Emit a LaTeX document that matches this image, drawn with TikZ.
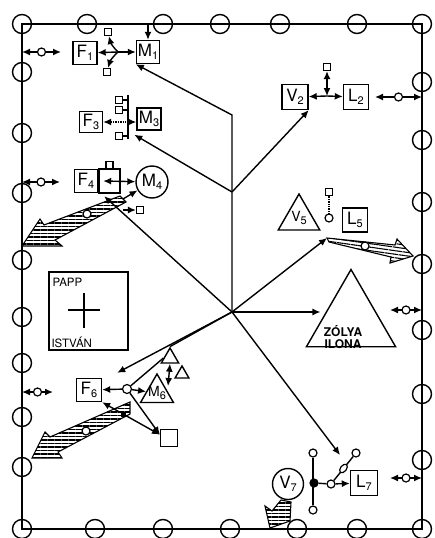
\documentclass[tikz,border=0pt]{standalone}
\usepackage{fontspec}
\setmainfont{TeX Gyre Heros}
\usetikzlibrary{arrows.meta, positioning, shapes.geometric, calc, patterns.meta}
\newcommand\lowidx[1]{\raisebox{-.4ex}{\fontsize{11}{11}\selectfont #1}}
\newcommand\lblfont{\fontsize{17}{17}\selectfont}
\newcommand\trifont{\fontsize{14}{14}\selectfont}
\tikzset{
    edgeline/.style={line width=2.2pt},
    ring/.style={circle, draw, line width=1.4pt, minimum size=19pt, inner sep=0pt},
    pers/.style={draw, line width=1.4pt, minimum width=24pt, minimum height=23pt, inner sep=0pt, font=\lblfont},
    sq/.style={draw, line width=1.2pt, minimum size=7pt, inner sep=0pt, fill=white},
    smalldot/.style={circle, draw, line width=1.2pt, minimum size=8pt, inner sep=0pt, fill=white},
    link/.style={line width=1.4pt},
    arr/.style={link, -{Latex[length=8pt, width=7pt]}},
    dbl/.style={link, {Latex[length=8pt, width=7pt]}-{Latex[length=8pt, width=7pt]}},
    hatch/.style={draw, line width=1.1pt, pattern={Lines[angle=0, distance=3.5pt, line width=1.1pt]}},
    tri/.style={regular polygon, regular polygon sides=3, draw, line width=1.4pt, inner sep=0pt}
}
\begin{document}
\begin{tikzpicture}[x=1pt, y=-1pt]
                \useasboundingbox (0,0) rectangle (434,538);
                
                % Frame and table circles
                \coordinate (fr-nw) at (22,24);
                \coordinate (fr-ne) at (422,24);
                \coordinate (fr-se) at (422,529);
                \coordinate (fr-sw) at (22,529);
                \draw[edgeline] (fr-nw) -- (fr-ne) -- (fr-se) -- (fr-sw) -- cycle;
                \foreach \c in {fr-nw, fr-ne, fr-se, fr-sw} \node[ring] (r-\c) at (\c) {};
                \foreach \x [count=\i] in {87,163,220,280,357} \node[ring] (rt\i) at (\x,24) {};
                \foreach \x [count=\i] in {95,163,230,297,357} \node[ring] (rb\i) at (\x,529) {};
                \foreach \y [count=\i] in {72,133,193,260,317,363,417,467} \node[ring] (rl\i) at (22,\y) {};
                \foreach \y [count=\i] in {82,140,202,264,330,394,460} \node[ring] (rr\i) at (422,\y) {};
                \foreach \a/\b/\y [count=\i] in {22/61/52, 22/60/182, 22/53/392, 375/422/97, 390/422/310, 390/422/478} {
                    \coordinate (ea\i) at (\a,\y);
                    \coordinate (eb\i) at (\b,\y);
                    \draw[dbl] (ea\i) -- node[smalldot] (ed\i) {} (eb\i);
                }
                
                \coordinate (bend) at (232,115);
                \coordinate (B) at (232,192);
                \coordinate (C) at (232,312);
                
                % F1 - M1
                \node[pers] (F1) at (85,53) {F\lowidx{1}};
                \node[pers, minimum width=23pt] (M1) at (148,52) {M\lowidx{1}};
                \coordinate (j1) at (118,52);
                \node[sq] (s1a) at (108,32) {};
                \node[sq] (s1b) at (107,72) {};
                \draw[arr] (j1) -- (F1);
                \draw[arr] (j1) -- (M1);
                \draw[arr] (j1) to[bend left=15] (s1a);
                \draw[arr] (j1) to[bend right=15] (s1b);
                \draw[arr] (M1.north |- fr-nw) -- (M1.north);
                
                % F3 - M3
                \node[pers, minimum width=23pt, minimum height=21pt] (F3) at (91,122) {F\lowidx{3}};
                \node[pers, minimum height=22pt] (M3) at (149,119) {M\lowidx{3}};
                \coordinate (v3a) at (128,95);
                \coordinate (v3b) at (128,139);
                \draw[link] (v3a) -- (v3b);
                \foreach \y [count=\i] in {100,110,136} {
                    \node[sq] (s3\i) at (119,\y) {};
                    \draw[link] (s3\i) -- (s3\i -| v3a);
                }
                \draw[dbl, densely dotted] (F3.east) -- (F3.east -| M3.west);
                
                % F4 - M4
                \node[pers, minimum width=23pt] (F4) at (86,181) {F\lowidx{4}};
                \node[draw, line width=1.4pt, minimum width=21pt, minimum height=24pt, inner sep=0pt, right=0pt of F4] (a4) {};
                \node[sq, above=-1pt of a4] (s4a) {};
                \node[circle, draw, line width=1.4pt, minimum size=32pt, inner sep=0pt, font=\lblfont] (M4) at (152,182) {M\lowidx{4}};
                \draw[dbl] ([xshift=5pt]a4.west) -- (M4);
                \coordinate (h4s) at (123,199);
                \draw[hatch] (120,196) -- (44,225) -- (40,219) -- (22,246) -- (62,246) -- (55,240) -- (126,202) -- cycle;
                \node[smalldot] (h4d) at (87,214) {};
                \draw[arr] (h4s) -- (M4.210);
                \node[sq] (s4b) at (140,210) {};
                \draw[arr] ([yshift=-11pt]h4s) -- (s4b);
                
                % V2 - L2
                \node[pers, minimum width=26pt, minimum height=25pt] (V2) at (295,97) {V\lowidx{2}};
                \node[pers, minimum width=25pt, minimum height=25pt] (L2) at (356,97) {L\lowidx{2}};
                \coordinate (j2) at (327,96);
                \node[sq] (s2) at (327,67) {};
                \draw[arr] (j2) -- (V2);
                \draw[arr] (j2) -- (L2);
                \draw[dbl] (s2) -- (j2);
                
                % V5 - L5
                \node[tri, minimum size=48pt, label={[font=\trifont]center:V\lowidx{5}}] (V5) at (299,218) {};
                \node[sq, line width=1.8pt] (s5) at (329,192) {};
                \node[smalldot] (d5) at (329,218) {};
                \draw[link, densely dotted] (s5) -- (d5);
                \node[pers, minimum width=25pt, minimum height=24pt] (L5) at (355,220) {L\lowidx{5}};
                \coordinate (h5s) at (327,238);
                \draw[hatch, pattern={Lines[angle=-8, distance=3.5pt, line width=1.1pt]}] (h5s) -- (395,245) -- (397,239) -- (413,256) -- (390,263) -- (391,257) -- (329,242) -- cycle;
                \node[smalldot] (h5d) at (365,246) {};
                
                % Zolya Ilona
                \node[tri, minimum size=103pt] (ZI) at (351,321) {};
                \node[font=\bfseries\fontsize{12}{12.5}\selectfont, align=center, inner sep=0pt] (ZIt) at (343,337) {ZÓLYA\\ILONA};
                
                % Papp Istvan
                \node[draw, line width=1.4pt, minimum width=79pt, minimum height=78pt] (PI) at (88.5,311) {};
                \node[font=\fontsize{11.5}{11.5}\selectfont, anchor=north west, inner sep=0pt] (PIa) at ([shift={(4pt,-7pt)}]PI.north west) {PAPP};
                \node[font=\fontsize{11.5}{11.5}\selectfont, anchor=south west, inner sep=0pt] (PIb) at ([shift={(3pt,3pt)}]PI.south west) {ISTVÁN};
                \coordinate (PIx) at (84,310);
                \draw[link] ([xshift=-16pt]PIx) -- ([xshift=16pt]PIx);
                \draw[link] ([yshift=17pt]PIx) -- ([yshift=-18pt]PIx);
                
                % F6 - M6
                \node[pers, minimum width=25pt] (F6) at (89,390) {F\lowidx{6}};
                \node[smalldot, minimum size=9pt] (j6) at (127,389) {};
                \node[tri, minimum size=38pt, label={[font=\trifont]center:M\lowidx{6}}] (M6) at (157,393) {};
                \node[tri, minimum size=20pt] (T1) at (170,358) {};
                \node[tri, minimum size=16pt] (T2) at (182,374) {};
                \coordinate (m6r) at (168,386);
                \draw[arr] (j6) -- (F6);
                \draw[arr] (j6) -- (M6);
                \draw[dbl] (T1.south) -- (m6r);
                \draw[link] (T1.west) -- (j6);
                \draw[hatch] (130,402) -- (50,437) -- (45,432) -- (32,458) -- (62,458) -- (58,452) -- (130,414) -- cycle;
                \node[smalldot] (h6d) at (86,431) {};
                \node[sq, minimum size=17pt] (q6) at (169,438) {};
                \node[fill, minimum size=5pt, inner sep=0pt] (f6) at (123,414) {};
                \draw[arr] (j6) -- (q6.160);
                \draw[arr] (f6) -- (q6.160);
                \draw[arr] (f6) -- (F6.south east);
                
                % V7 - L7
                \node[circle, draw, line width=1.4pt, minimum size=31pt, inner sep=0pt, font=\lblfont] (V7) at (288,484) {V\lowidx{7}};
                \node[smalldot] (d7a) at (313,453) {};
                \node[smalldot] (d7b) at (313,510) {};
                \draw[link] (d7a) -- (d7b);
                \node[smalldot, fill=black] (j7) at (314,483) {};
                \node[smalldot] (d7c) at (331,484) {};
                \node[pers, minimum width=27pt, minimum height=25pt] (L7) at (364,483) {L\lowidx{7}};
                \draw[link] (j7) -- (d7c);
                \draw[arr] (d7c) -- (L7);
                \node[smalldot] (d7d) at (356,453) {};
                \draw[link] (d7c) -- node[ellipse, draw, line width=1.2pt, fill=white, minimum width=10pt, minimum height=6pt, inner sep=0pt, rotate=52] (e7) {} (d7d);
                \coordinate (a7) at (340,455);
                \draw[hatch] (281,500) -- (272,511) -- (265,506) -- (270,528) -- (290,521) -- (291,502) -- cycle;
                
                % Arrows from the middle
                \draw[link, {Latex[length=8pt, width=7pt]}-] (M1.south west) -- (bend) -- (C);
                \draw[arr] (B) -- (V2.south east);
                \draw[arr] (B) -- ([shift={(-2pt,-4pt)}]M3.south west);
                \draw[arr] (C) -- (h5s);
                \draw[arr] (C) -- (C -| ZI.west);
                \draw[arr] (C) -- ([shift={(6pt,-3pt)}]F4.south east);
                \draw[arr] (C) -- ([shift={(15pt,5pt)}]F6.north east);
                \draw[link] (C) -- (T1.corner 1);
                \draw[arr] (C) -- (a7);
            \end{tikzpicture}
\end{document}
